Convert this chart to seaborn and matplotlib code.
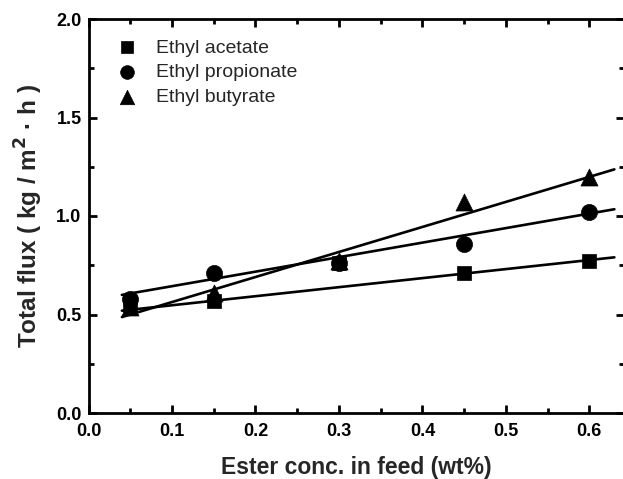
import numpy as np
import pandas as pd
import seaborn as sns
import matplotlib.pyplot as plt
from matplotlib.ticker import MultipleLocator

sns.set_theme(style="ticks")
plt.rcParams['font.family'] = ['Liberation Sans', 'DejaVu Sans']

# ---- data ----
conc = [0.05, 0.15, 0.30, 0.45, 0.60]
ethyl_acetate = [0.55, 0.57, 0.76, 0.71, 0.77]
ethyl_propionate = [0.58, 0.71, 0.76, 0.86, 1.02]
ethyl_butyrate = [0.54, 0.61, 0.77, 1.07, 1.20]
series_names = ["Ethyl acetate", "Ethyl propionate", "Ethyl butyrate"]
# linear-fit lines (slope, intercept)
fit_slope = [0.459, 0.737, 1.271]
fit_intercept = [0.501, 0.570, 0.436]
fit_range = [0.04, 0.63]
x_ticks = [0.0, 0.1, 0.2, 0.3, 0.4, 0.5, 0.6]
y_ticks = [0.0, 0.5, 1.0, 1.5, 2.0]

df = pd.DataFrame({
    "conc": conc * 3,
    "flux": ethyl_acetate + ethyl_propionate + ethyl_butyrate,
    "series": [n for n in series_names for _ in conc],
})

fig = plt.figure(figsize=(6.23, 4.79), dpi=100)
ax = fig.add_axes([88.5 / 623, 1 - 413 / 479, (624.4 - 88.5) / 623, (413 - 19) / 479])

# fit lines
for m, b in zip(fit_slope, fit_intercept):
    xs = np.array(fit_range)
    sns.lineplot(x=xs, y=m * xs + b, color="black", linewidth=1.9, ax=ax, zorder=2)

# markers
markers = {"Ethyl acetate": "s", "Ethyl propionate": "o", "Ethyl butyrate": "^"}
sizes = {"Ethyl acetate": 115, "Ethyl propionate": 135, "Ethyl butyrate": 150}
for name in series_names:
    sub = df[df["series"] == name]
    sns.scatterplot(data=sub, x="conc", y="flux", marker=markers[name], s=sizes[name],
                    color="black", edgecolor="black", linewidth=0.5, ax=ax, zorder=3,
                    label=name)

ax.set_xlim(0, 0.642)
ax.set_ylim(0, 2.0)
ax.set_xticks(x_ticks)
ax.set_yticks(y_ticks)
ax.xaxis.set_minor_locator(MultipleLocator(0.05))
ax.yaxis.set_minor_locator(MultipleLocator(0.25))
ax.set_xticklabels([f"{v:.1f}" for v in x_ticks])
ax.set_yticklabels([f"{v:.1f}" for v in y_ticks])

for sp in ax.spines.values():
    sp.set_linewidth(2)
    sp.set_color("black")
ax.tick_params(which="both", direction="in", top=True, right=True, width=2, colors="black")
ax.tick_params(which="major", length=6, labelsize=13)
ax.tick_params(axis="x", which="major", pad=7)
ax.tick_params(axis="y", which="major", pad=5)
ax.tick_params(which="minor", length=3.5)
for lab in ax.get_xticklabels() + ax.get_yticklabels():
    lab.set_fontweight("bold")

ax.set_xlabel("Ester conc. in feed (wt%)", fontsize=16.5, fontweight="bold", labelpad=12)
ax.set_ylabel("Total flux ( kg / m$^{\\mathbf{2}}$ · h )", fontsize=17.5, fontweight="bold", labelpad=8)

leg = ax.legend(loc="upper left", frameon=False, fontsize=14, handletextpad=0.5,
                borderaxespad=0, borderpad=0, labelspacing=0.36, markerscale=0.85,
                bbox_to_anchor=(0.0356, 0.9494))

fig.savefig("out.png", dpi=100)
